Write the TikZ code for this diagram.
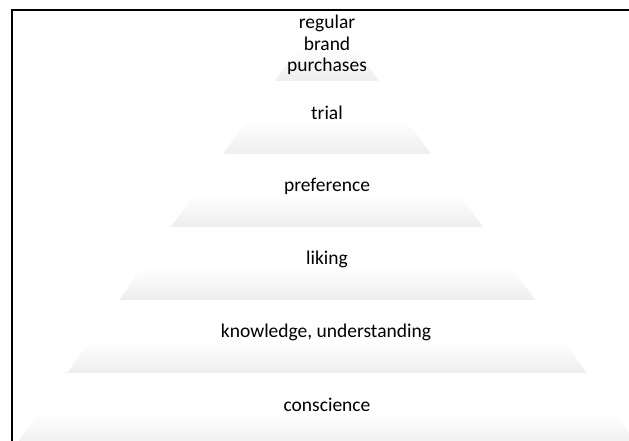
\documentclass[tikz,border=0pt]{standalone}
\usepackage{fontspec}
\setmainfont{Carlito}
% white in the upper half of each band, fading to light grey at its base
\pgfdeclareverticalshading{layerfade}{100bp}{color(0bp)=(black!14); color(48bp)=(white); color(100bp)=(white)}
\begin{document}
\begin{tikzpicture}[x=1pt,y=-1pt,
  band/.style={shading=layerfade, draw=none},
  lbl/.style={font=\fontsize{19.5}{21.5}\selectfont, align=center, text=black, inner sep=0pt},
  frame/.style={draw=black, line width=1.6pt}]
\useasboundingbox (0,0) rectangle (629,441);
\begin{scope}
  \clip (0,0) rectangle (629,441);
  % pyramid bands: apex at (327,8), each band 73 high, sides slope 0.712
  \foreach \i in {1,...,6}{
    \pgfmathsetmacro{\yt}{8+73*(\i-1)}
    \pgfmathsetmacro{\yb}{8+73*\i}
    \pgfmathsetmacro{\wt}{0.712*(\yt-8)}
    \pgfmathsetmacro{\wb}{0.712*(\yb-8)}
    \shade[band] (327-\wt,\yt) -- (327+\wt,\yt) -- (327+\wb,\yb) -- (327-\wb,\yb) -- cycle;
  }
  \draw[frame] (12,10) rectangle (680,480);
\end{scope}
\node[lbl] (purchases) at (327,45) {regular\\brand\\purchases};
\node[lbl] (trial) at (327,113) {trial};
\node[lbl] (preference) at (327,186) {preference};
\node[lbl] (liking) at (327,259) {liking};
\node[lbl] (knowledge) at (326,332) {knowledge, understanding};
\node[lbl] (conscience) at (327,405) {conscience};
\end{tikzpicture}
\end{document}
